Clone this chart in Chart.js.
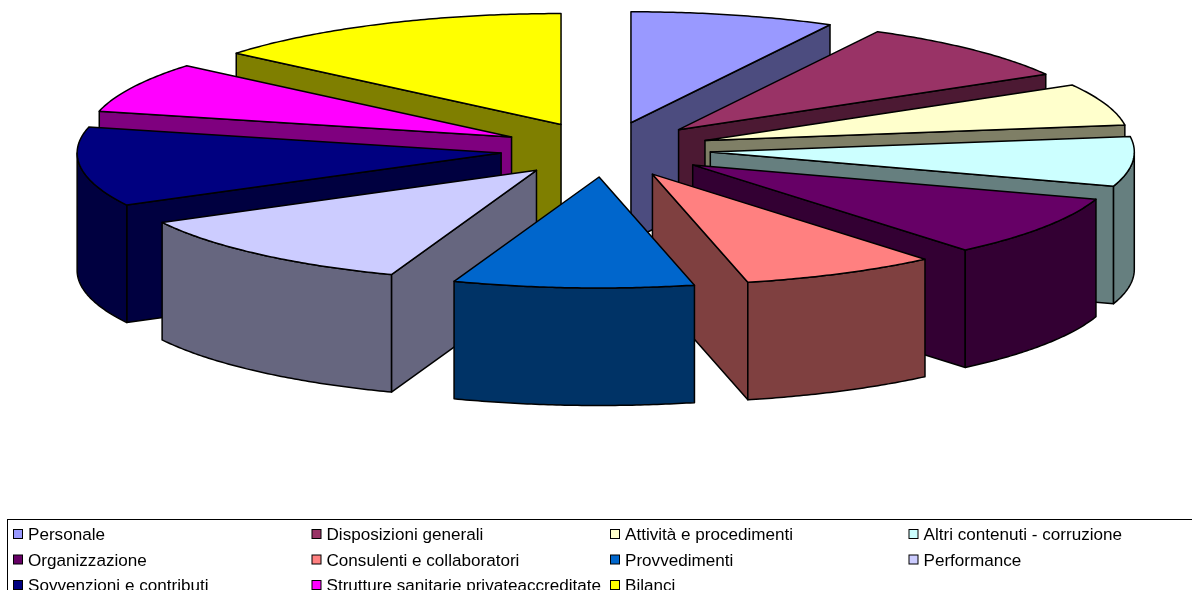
<!DOCTYPE html>
<html>
<head>
<meta charset="utf-8">
<style>html,body{margin:0;padding:0;background:#fff;overflow:hidden}canvas{display:block}</style>
<script src="https://cdn.jsdelivr.net/npm/chart.js@4"></script>
</head>
<body>
<canvas id="pie" width="1192" height="590"></canvas>
<script>
const categories = ['Personale','Disposizioni generali','Attività e procedimenti','Altri contenuti - corruzione',
  'Organizzazione','Consulenti e collaboratori','Provvedimenti','Performance',
  'Sovvenzioni e contributi','Strutture sanitarie privateaccreditate','Bilanci'];
const shares = [28,32,22,26,32,27,33,42,41.5,26.5,50];
const topColors = ['#9999ff','#993366','#ffffcc','#ccffff','#660066','#ff8080','#0066cc','#ccccff','#000080','#ff00ff','#ffff00'];

// Extrudes the library's arc elements into a tilted, exploded solid pie.
const solidPie = {
  id: 'solidPie',
  beforeDatasetDraw(chart, args, opts) {
    const ctx = chart.ctx;
    const area = chart.chartArea;
    const cx = (area.left + area.right) / 2, cy = (area.top + area.bottom) / 2;
    const arcs = args.meta.data;
    const R = arcs[0].outerRadius;
    const sx = opts.radiusX / R, sy = opts.radiusY / R;
    const project = (x, y) => [cx + sx * (x - cx), cy + sy * (y - cy)];

    const shade = hex => {
      const n = parseInt(hex.slice(1), 16);
      return `rgb(${(n >> 16) >> 1},${((n >> 8) & 255) >> 1},${(n & 255) >> 1})`;
    };
    const face = (points, fill) => {
      ctx.beginPath();
      points.forEach((p, i) => i ? ctx.lineTo(p[0], p[1]) : ctx.moveTo(p[0], p[1]));
      ctx.closePath();
      ctx.fillStyle = fill;
      ctx.fill();
      ctx.stroke();
    };
    const rim = (apexX, apexY, from, to) => {
      const steps = Math.max(2, Math.ceil(Math.abs(to - from) / 0.01));
      const pts = [];
      for (let i = 0; i <= steps; i++) {
        const a = from + (to - from) * i / steps;
        pts.push(project(apexX + R * Math.cos(a), apexY + R * Math.sin(a)));
      }
      return pts;
    };
    const drop = p => [p[0], p[1] + opts.depth];

    // Paint from the back of the pie to the front.
    const order = arcs.map((a, i) => i).sort((i, j) =>
      Math.sin((arcs[i].startAngle + arcs[i].endAngle) / 2) -
      Math.sin((arcs[j].startAngle + arcs[j].endAngle) / 2));

    ctx.save();
    ctx.strokeStyle = '#000';
    ctx.lineWidth = opts.edge;
    ctx.lineJoin = 'round';
    for (const i of order) {
      const el = arcs[i];
      const mid = (el.startAngle + el.endAngle) / 2;
      const off = el.options.offset;
      const ax = el.x + off * Math.cos(mid), ay = el.y + off * Math.sin(mid);
      const apex = project(ax, ay);
      const color = el.options.backgroundColor;
      const side = shade(color);
      const outer = rim(ax, ay, el.startAngle, el.endAngle);
      const first = outer[0], last = outer[outer.length - 1];

      // Radial walls facing the viewer.
      if (Math.cos(el.startAngle) < -1e-6) face([apex, first, drop(first), drop(apex)], side);
      if (Math.cos(el.endAngle) > 1e-6) face([apex, last, drop(last), drop(apex)], side);

      // Curved outer wall: only the front half of the circle shows.
      const from = Math.max(el.startAngle, 0), to = Math.min(el.endAngle, Math.PI);
      if (to > from) {
        const wall = rim(ax, ay, from, to);
        face(wall.concat(wall.map(drop).reverse()), side);
      }
      face([apex].concat(outer), color);
    }
    ctx.restore();
    return false;
  },
  afterDraw(chart, args, opts) {
    // Boxed key in four fixed columns, running off the bottom of the canvas.
    const ctx = chart.ctx;
    const k = opts.key;
    ctx.save();
    ctx.strokeStyle = '#000';
    ctx.lineWidth = 1;
    ctx.strokeRect(k.left + 0.5, k.top + 0.5, chart.width + 20, 200);
    ctx.font = k.font;
    ctx.textBaseline = 'alphabetic';
    categories.forEach((name, i) => {
      const col = i % 4, row = Math.floor(i / 4);
      const x = k.firstX + col * k.colStep, y = k.firstY + row * k.rowStep;
      ctx.fillStyle = topColors[i];
      ctx.fillRect(x + 0.5, y + 0.5, k.swatch, k.swatch);
      ctx.strokeRect(x + 0.5, y + 0.5, k.swatch, k.swatch);
      ctx.fillStyle = '#000';
      ctx.fillText(name, x + k.textGap, y + k.baseline);
    });
    ctx.restore();
  }
};

new Chart(document.getElementById('pie'), {
  type: 'pie',
  data: {
    labels: categories,
    datasets: [{ data: shares, backgroundColor: topColors, borderWidth: 0, offset: 33 }]
  },
  options: {
    responsive: false,
    animation: false,
    events: [],
    layout: { padding: { left: 19, right: 0, top: 0, bottom: 291 } },
    plugins: {
      legend: { display: false },
      tooltip: { enabled: false },
      solidPie: {
        radiusX: 424, radiusY: 111, depth: 117.5, edge: 1.5,
        key: { left: 7, top: 519, firstX: 13, firstY: 529, colStep: 298.5, rowStep: 25.5,
               swatch: 9, textGap: 15, baseline: 11, font: '17.1px "Liberation Sans", Arial, sans-serif' }
      }
    }
  },
  plugins: [solidPie]
});
</script>
</body>
</html>
